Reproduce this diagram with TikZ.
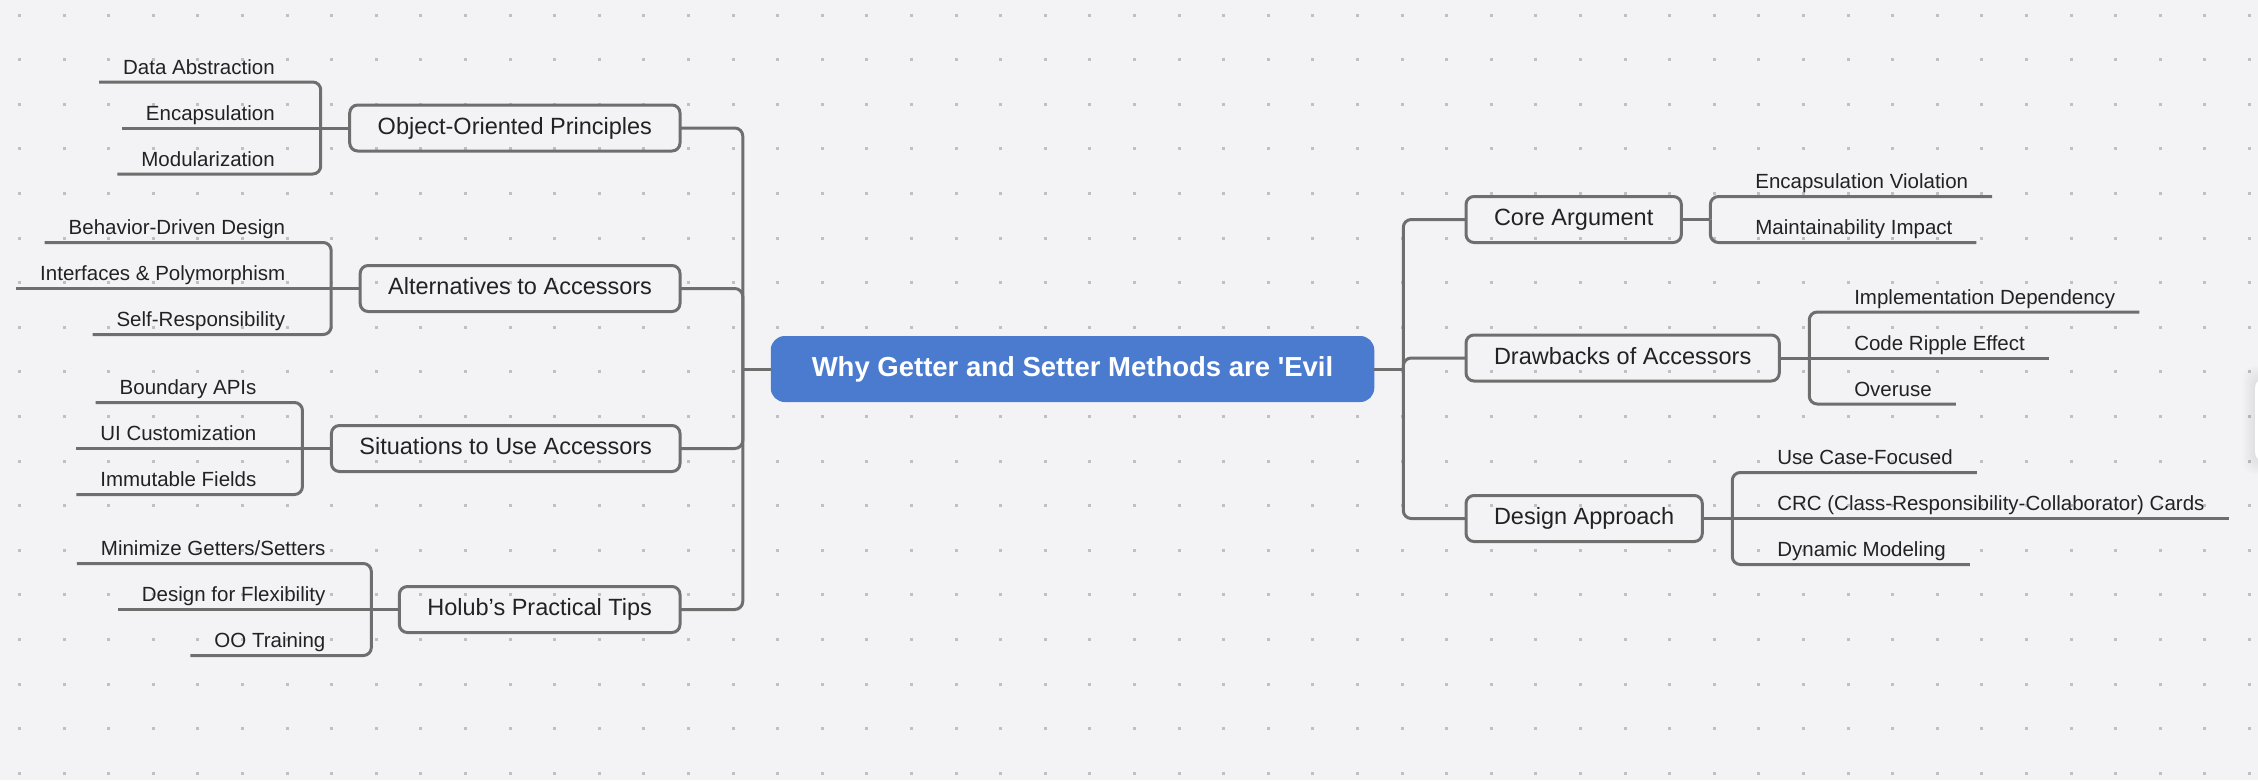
\documentclass[tikz,border=0pt]{standalone}
\usepackage{fontspec}
\setmainfont{Liberation Sans}
\usetikzlibrary{calc}

\definecolor{bgcol}{HTML}{F3F3F5}
\definecolor{dotcol}{HTML}{C0C0C4}
\definecolor{linecol}{HTML}{6E6E6E}
\definecolor{txtcol}{HTML}{222222}
\definecolor{rootcol}{HTML}{4A7BCE}

\begin{document}
\begin{tikzpicture}[x=1pt,y=-1pt,
                    link/.style={draw=linecol,line width=3pt,rounded corners=8pt},
                    root/.style={fill=rootcol,text=white,font=\fontsize{27.5}{30}\selectfont\bfseries,rounded corners=14pt,minimum height=66pt,inner xsep=41pt,inner ysep=0pt,outer sep=0pt},
                    branch/.style={draw=linecol,line width=3pt,text=txtcol,font=\fontsize{23.5}{26}\selectfont,rounded corners=8pt,minimum height=46pt,inner xsep=28pt,inner ysep=0pt,outer sep=0pt,text height=17pt,text depth=5pt},
                    leaf/.style={text=txtcol,font=\fontsize{20.5}{23}\selectfont,inner xsep=24pt,inner ysep=0pt,outer sep=0pt,text height=15pt,text depth=8pt}
]
% canvas with dot grid
\useasboundingbox[fill=bgcol] (0,0) rectangle (2258,780);
\foreach \i in {0,...,50}
  \foreach \j in {0,...,17}
    \fill[dotcol] ({19.4+44.6*\i-1.5},{15+44.6*\j-1.5}) rectangle ++(3,3);
% side panel at the right edge
\foreach \s in {1,...,6}
  \fill[black,opacity=0.012,rounded corners=12pt] ({2255-2*\s},{378-2*\s}) rectangle ({2300+2*\s},{462+2*\s});
\fill[white,rounded corners=10pt] (2255,378) rectangle (2300,462);
%
\node [root] at (1072.5,369) (root) {Why Getter and Setter Methods are \textquotesingle Evil};
%
\node [branch, anchor=east] at (680,128)   (oop)   {Object-Oriented Principles};
\node [branch, anchor=east] at (680,288.5) (alt)   {Alternatives to Accessors};
\node [branch, anchor=east] at (680,448.5) (sit)   {Situations to Use Accessors};
\node [branch, anchor=east] at (680,609.5) (holub) {Holub’s Practical Tips};
\node [branch, anchor=west] at (1466,219.5) (core)   {Core Argument};
\node [branch, anchor=west] at (1466,358)   (drawb)  {Drawbacks of Accessors};
\node [branch, anchor=west] at (1466,518.5) (design) {Design Approach};
%
\draw[link] (root.west) -- ++(-28,0) coordinate (lspine);
\draw[link] (root.east) -- ++(29,0) coordinate (rspine);
\foreach \b in {oop,alt,sit,holub}
  \draw[link] (lspine) |- (\b.east);
\foreach \b in {core,drawb,design}
  \draw[link] (rspine) |- (\b.west);
%
\draw[link] (oop.west) -- ++(-29,0) coordinate (oopj);
\node [leaf, anchor=south east] at ($(oopj)+(-22,-46)$) (dataabs) {Data Abstraction};
\node [leaf, anchor=south east] at ($(oopj)+(-22,0)$)   (encap)   {Encapsulation};
\node [leaf, anchor=south east] at ($(oopj)+(-22,46)$)  (modul)   {Modularization};
\draw[link] (oopj) |- (dataabs.south west);
\draw[link] (oopj) -- (encap.south west);
\draw[link] (oopj) |- (modul.south west);
%
\draw[link] (alt.west) -- ++(-29,0) coordinate (altj);
\node [leaf, anchor=south east] at ($(altj)+(-22,-46)$) (bdd)      {Behavior-Driven Design};
\node [leaf, anchor=south east] at ($(altj)+(-22,0)$)   (iface)    {Interfaces \& Polymorphism};
\node [leaf, anchor=south east] at ($(altj)+(-22,46)$)  (selfresp) {Self-Responsibility};
\draw[link] (altj) |- (bdd.south west);
\draw[link] (altj) -- (iface.south west);
\draw[link] (altj) |- (selfresp.south west);
%
\draw[link] (sit.west) -- ++(-29,0) coordinate (sitj);
\node [leaf, anchor=south east] at ($(sitj)+(-22,-46)$) (bapi)   {Boundary APIs};
\node [leaf, anchor=south east] at ($(sitj)+(-22,0)$)   (uicust) {UI Customization};
\node [leaf, anchor=south east] at ($(sitj)+(-22,46)$)  (immut)  {Immutable Fields};
\draw[link] (sitj) |- (bapi.south west);
\draw[link] (sitj) -- (uicust.south west);
\draw[link] (sitj) |- (immut.south west);
%
\draw[link] (holub.west) -- ++(-28,0) coordinate (holubj);
\node [leaf, anchor=south east] at ($(holubj)+(-22,-46)$) (minget)  {Minimize Getters/Setters};
\node [leaf, anchor=south east] at ($(holubj)+(-22,0)$)   (flex)    {Design for Flexibility};
\node [leaf, anchor=south east] at ($(holubj)+(-22,46)$)  (ootrain) {OO Training};
\draw[link] (holubj) |- (minget.south west);
\draw[link] (holubj) -- (flex.south west);
\draw[link] (holubj) |- (ootrain.south west);
%
\draw[link] (core.east) -- ++(29,0) coordinate (corej);
\node [leaf, anchor=south west] at ($(corej)+(21,-23)$) (encviol) {Encapsulation Violation};
\node [leaf, anchor=south west] at ($(corej)+(21,23)$)  (maint)   {Maintainability Impact};
\draw[link] (corej) |- (encviol.south east);
\draw[link] (corej) |- (maint.south east);
%
\draw[link] (drawb.east) -- ++(30,0) coordinate (drawbj);
\node [leaf, anchor=south west] at ($(drawbj)+(21,-46)$) (impldep) {Implementation Dependency};
\node [leaf, anchor=south west] at ($(drawbj)+(21,0)$)   (ripple)  {Code Ripple Effect};
\node [leaf, anchor=south west] at ($(drawbj)+(21,46)$)  (overuse) {Overuse};
\draw[link] (drawbj) |- (impldep.south east);
\draw[link] (drawbj) -- (ripple.south east);
\draw[link] (drawbj) |- (overuse.south east);
%
\draw[link] (design.east) -- ++(30,0) coordinate (designj);
\node [leaf, anchor=south west] at ($(designj)+(21,-46)$) (usecase) {Use Case-Focused};
\node [leaf, anchor=south west] at ($(designj)+(21,0)$)   (crc)     {CRC (Class-Responsibility-Collaborator) Cards};
\node [leaf, anchor=south west] at ($(designj)+(21,46)$)  (dynmod)  {Dynamic Modeling};
\draw[link] (designj) |- (usecase.south east);
\draw[link] (designj) -- (crc.south east);
\draw[link] (designj) |- (dynmod.south east);
\end{tikzpicture}
\end{document}
